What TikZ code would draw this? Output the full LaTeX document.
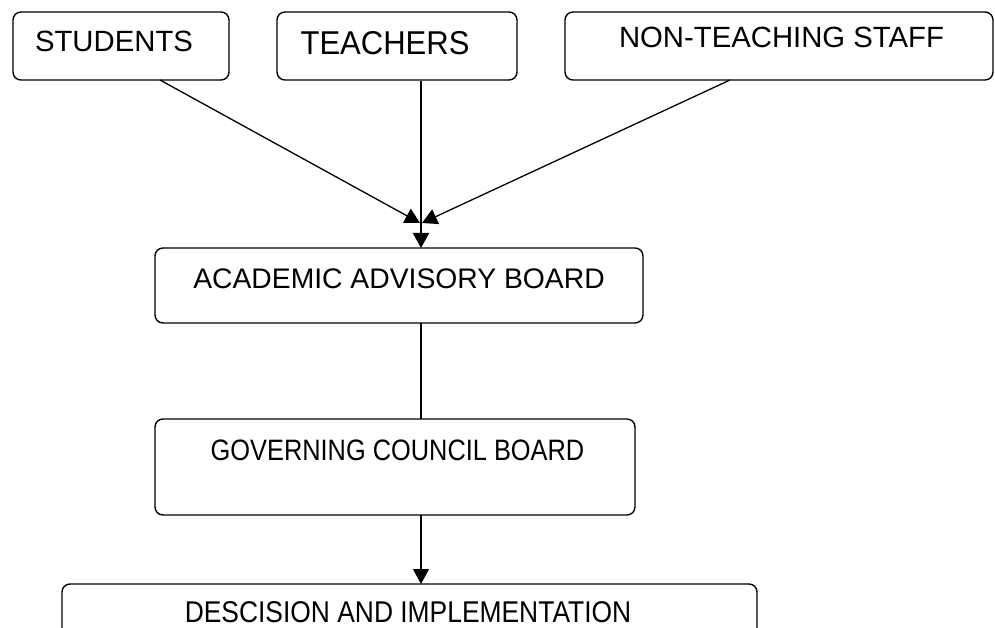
\documentclass[tikz,border=0pt]{standalone}
\usepackage{fontspec}
\usepackage{graphicx}
\setmainfont{Liberation Sans}
\usetikzlibrary{arrows.meta}
\tikzset{
  box/.style={draw, line width=1.4pt, rounded corners=8pt, inner sep=0pt},
  lbl/.style={anchor=base, inner sep=0pt},
  con/.style={line width=1.3pt},
  arr/.style={con, -{Triangle[length=15pt,width=16pt]}},
}
\newcommand{\fsz}[1]{\fontsize{#1}{#1}\selectfont}
\begin{document}
\begin{tikzpicture}[x=1pt,y=-1pt]
\useasboundingbox (0,0) rectangle (995,628);
\clip (0,0) rectangle (995,628);
% boxes
\node[box, minimum width=216pt, minimum height=68pt] (stud) at (121,46) {};
\node[box, minimum width=240pt, minimum height=68pt] (teach) at (397,46) {};
\node[box, minimum width=428pt, minimum height=68pt] (staff) at (779,46) {};
\node[box, minimum width=488pt, minimum height=75pt] (aab) at (399,285.5) {};
\node[box, minimum width=480pt, minimum height=96pt] (gcb) at (395,467) {};
\node[box, minimum width=695pt, minimum height=100pt] (dec) at (409.5,634) {};
% labels
\node[lbl] (t1) at (114,52) {\fsz{29.3}STUDENTS};
\node[lbl] (t2) at (385,55) {\fsz{33}\scalebox{0.94}[1]{TEACHERS}};
\node[lbl] (t3) at (781.5,48) {\fsz{29.3}NON-TEACHING STAFF};
\node[lbl] (t4) at (399,288) {\fsz{28.3}ACADEMIC ADVISORY BOARD};
\node[lbl] (t5) at (397.5,460) {\fsz{29.5}\scalebox{0.86}[1]{GOVERNING COUNCIL BOARD}};
\node[lbl] (t6) at (408,622) {\fsz{30}\scalebox{0.88}[1]{DESCISION AND IMPLEMENTATION}};
% connector points
\coordinate (sA) at (160,80);
\coordinate (sB) at (730,80);
\coordinate (tL) at (420,223);
\coordinate (tR) at (422,223);
\coordinate (tT) at (421,81);
\coordinate (aT) at (421,248);
\coordinate (aB) at (421,323);
\coordinate (gT) at (421,419);
\coordinate (gB) at (421,515);
\coordinate (dT) at (421,584);
% connectors
\draw[arr] (sA) -- (tL);
\draw[arr] (sB) -- (tR);
\draw[arr, line width=2.2pt] (tT) -- (aT);
\draw[con] (aB) -- (gT);
\draw[arr] (gB) -- (dT);
\end{tikzpicture}
\end{document}
